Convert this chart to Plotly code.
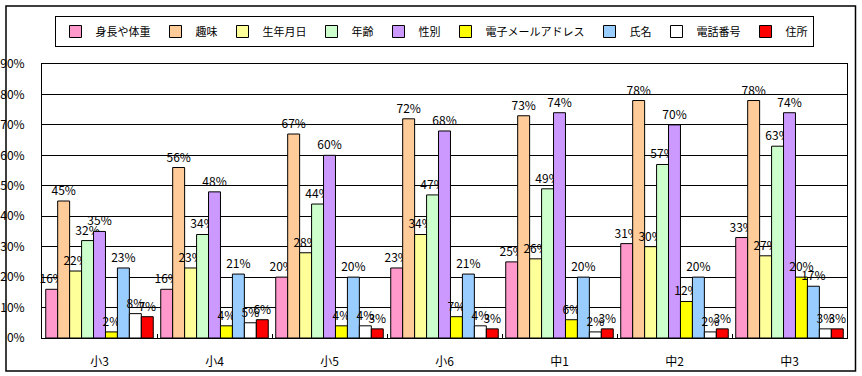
import plotly.graph_objects as go

categories = ["小3", "小4", "小5", "小6", "中1", "中2", "中3"]
series_names = ["身長や体重", "趣味", "生年月日", "年齢", "性別", "電子メールアドレス", "氏名", "電話番号", "住所"]
height_weight = [16, 16, 20, 23, 25, 31, 33]
hobby = [45, 56, 67, 72, 73, 78, 78]
birthday = [22, 23, 28, 34, 26, 30, 27]
age = [32, 34, 44, 47, 49, 57, 63]
gender = [35, 48, 60, 68, 74, 70, 74]
email = [2, 4, 4, 7, 6, 12, 20]
name = [23, 21, 20, 21, 20, 20, 17]
phone = [8, 5, 4, 4, 2, 2, 3]
address = [7, 6, 3, 3, 3, 3, 3]
series_values = [height_weight, hobby, birthday, age, gender, email, name, phone, address]
colors = ["#FF99CC", "#FFCC99", "#FFFF99", "#CCFFCC", "#CC99FF", "#FFFF00", "#99CCFF", "#FFFFFF", "#FF0000"]

FONT = "Noto Sans CJK JP"

fig = go.Figure()
for nm, vals, col in zip(series_names, series_values, colors):
    fig.add_trace(go.Bar(
        name=nm, x=categories, y=[v / 100 for v in vals],
        marker=dict(color=col, line=dict(color="black", width=1)),
        text=[f"{v}%" for v in vals], textposition="outside",
        constraintext="none", cliponaxis=False,
        textfont=dict(family=FONT, size=12, color="black"),
    ))

W, H = 862, 376
ml, mr, mt, mb = 42, 15, 64, 38
pw, ph = W - ml - mr, H - mt - mb

def px_x(x):
    return (x - ml) / pw

def px_y(y):
    return (H - mb - y) / ph

fig.update_layout(
    width=W, height=H,
    margin=dict(l=ml, r=mr, t=mt, b=mb, pad=0, autoexpand=False),
    paper_bgcolor="white", plot_bgcolor="white",
    barmode="group", bargap=0.065, bargroupgap=0,
    font=dict(family=FONT, size=12, color="black"),
    showlegend=True,
    legend=dict(
        orientation="h", x=px_x(434), xanchor="center", y=px_y(16), yanchor="top",
        bordercolor="black", borderwidth=1, bgcolor="white",
        font=dict(family=FONT, size=11), itemwidth=30, tracegroupgap=0,
    ),
    xaxis=dict(
        type="category", showline=True, linecolor="black", linewidth=1, mirror=True,
        ticks="inside", tickson="boundaries", ticklen=4, tickcolor="black",
        showgrid=False, ticklabelstandoff=13, automargin=False,
        tickfont=dict(family=FONT, size=12),
    ),
    yaxis=dict(
        range=[0, 0.9], dtick=0.1, tickformat=".0%",
        showline=True, linecolor="black", linewidth=1, mirror=True,
        showgrid=True, gridcolor="black", gridwidth=1, zeroline=False,
        ticks="", ticklabelstandoff=14, automargin=False,
        tickfont=dict(family=FONT, size=12),
    ),
    shapes=[dict(
        type="rect", xref="paper", yref="paper",
        x0=px_x(6), x1=px_x(855.5), y0=px_y(371), y1=px_y(6),
        line=dict(color="black", width=1.5), layer="below",
    )],
)

fig.write_html(
    "out.html",
    config={"displayModeBar": False},
    post_script="document.body.style.margin='0';document.body.style.overflow='hidden';",
)
